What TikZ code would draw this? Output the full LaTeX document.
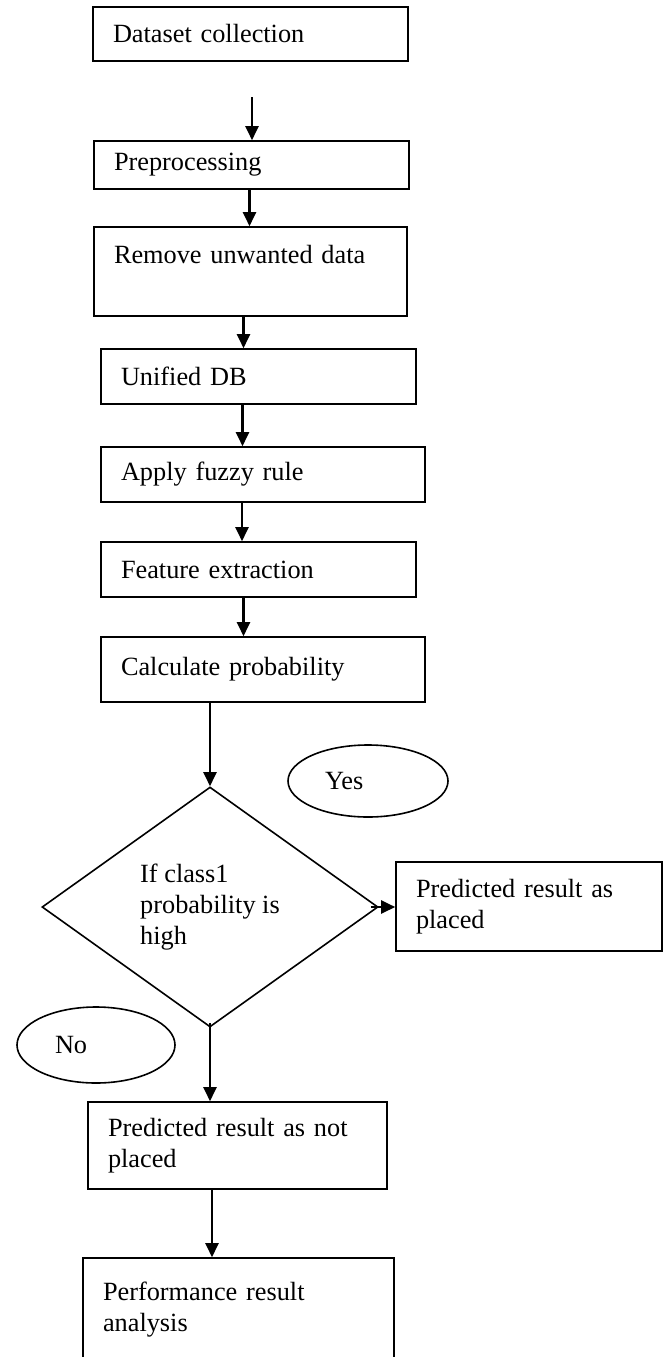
\documentclass[tikz,border=0pt]{standalone}
\usepackage{fontspec}
\setmainfont{Liberation Serif}
\usetikzlibrary{shapes.geometric,arrows.meta}
\tikzset{auto,
	box/.style={draw, rectangle, line width=1.6pt, inner xsep=20pt, inner ysep=0pt, align=left},
	oval/.style={draw, ellipse, line width=1.6pt, inner sep=0pt, align=left},
	decide/.style={draw, diamond, line width=1.6pt, inner sep=0pt, align=left},
	arr/.style={line width=2.2pt, -{Triangle[length=14pt,width=13pt]}}
}

\begin{document}
\begin{tikzpicture}[x=1pt, y=-1pt, font=\fontsize{26.3}{31}\selectfont]
	\useasboundingbox (0,0) rectangle (663,1357);
	
	\node [box] (data) at (250.5,34) [text width=275pt, minimum height=54pt] {Dataset collection};
	\node [box] (prep) at (251.5,165) [text width=275pt, minimum height=48pt] {Preprocessing};
	\node [box] (remove) at (250.5,271.5) [text width=273pt, text height=36pt, text depth=53pt] {Remove unwanted data};
	\node [box] (unified) at (258.5,376.5) [text width=275pt, minimum height=55pt] {Unified DB};
	\node [box] (fuzzy) at (263,474.5) [text width=284pt, minimum height=55pt] {Apply fuzzy rule};
	\node [box] (feature) at (258.5,569.5) [text width=275pt, minimum height=55pt] {Feature extraction};
	\node [box] (calc) at (263,669.5) [text width=284pt, minimum height=65pt] {Calculate probability};
	\node [decide] (dec) at (210,907) [minimum width=336pt, minimum height=240pt] {If class1\\probability is\\high};
	\node [oval] (yes) at (368,781) [text width=86pt, minimum width=160pt, minimum height=72pt] {Yes};
	\node [box] (placed) at (529,906.5) [text width=226pt, minimum height=89pt] {Predicted result as\\placed};
	\node [oval] (no) at (96,1045) [text width=82pt, minimum width=158pt, minimum height=76pt] {No};
	\node [box] (notplaced) at (237.5,1145.5) [text width=259pt, minimum height=87pt] {Predicted result as not\\placed};
	\node [box] (perf) at (238.5,1310) [text width=271pt, minimum height=104pt] {Performance result\\analysis};
	
	\coordinate (start) at (252,97);
	\draw [arr] (start) -- (start |- prep.north);
	\draw [arr] ([xshift=-2pt]prep.south) -- ([xshift=-2pt]prep.south |- remove.north);
	\draw [arr] ([xshift=-7pt]remove.south) -- ([xshift=-7pt]remove.south |- unified.north);
	\draw [arr] ([xshift=-16pt]unified.south) -- ([xshift=-16pt]unified.south |- fuzzy.north);
	\draw [arr] ([xshift=-21pt]fuzzy.south) -- ([xshift=-21pt]fuzzy.south |- feature.north);
	\draw [arr] ([xshift=-15pt]feature.south) -- ([xshift=-15pt]feature.south |- calc.north);
	\draw [arr] (calc.south -| dec.north) -- (dec.north);
	\draw [arr] ([xshift=-8pt]dec.east) -- (dec.east -| placed.west);
	\draw [arr] ([yshift=5pt]dec.south) -- (dec.south |- notplaced.north);
	\draw [arr] (notplaced.south -| 212,0) -- (perf.north -| 212,0);
\end{tikzpicture}
\end{document}
